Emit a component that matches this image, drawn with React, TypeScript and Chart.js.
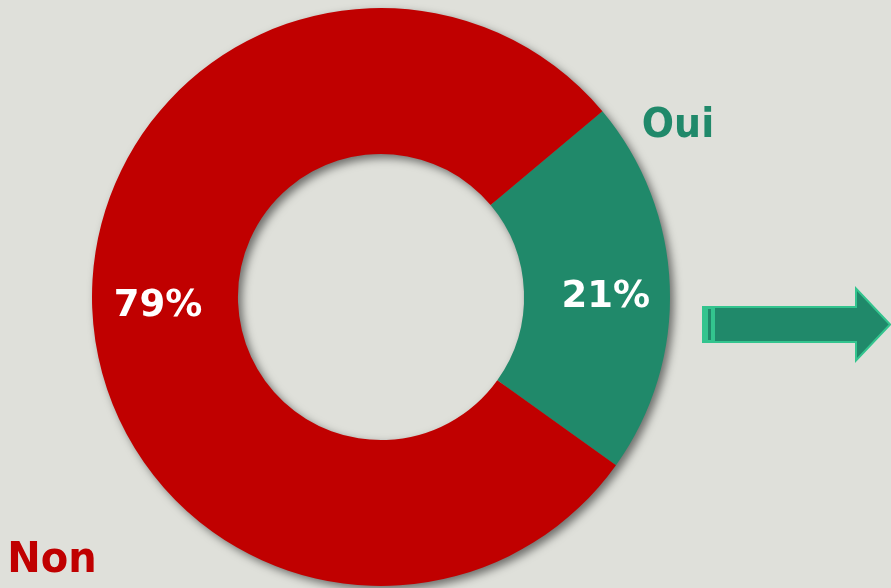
import React, { useEffect, useRef } from "react";
import { Chart, registerables } from "chart.js";

Chart.register(...registerables);

const categories = ["Oui", "Non"];
const values = [21, 79];
const percentLabels = ["21%", "79%"];
const sliceColors = ["#20896a", "#c00000"];
const BG = "#dfe0da";

const decorPlugin = {
  id: "decor",
  beforeDraw(chart: any) {
    const { ctx, width, height } = chart;
    ctx.save();
    ctx.fillStyle = BG;
    ctx.fillRect(0, 0, width, height);
    ctx.restore();
  },
  beforeDatasetsDraw(chart: any) {
    const ctx = chart.ctx;
    const meta = chart.getDatasetMeta(0);
    const arc: any = meta.data[0];
    if (!arc) return;
    const { x, y, outerRadius, innerRadius } = arc.getProps(
      ["x", "y", "outerRadius", "innerRadius"],
      true
    );
    const shift = 5000;
    ctx.save();
    ctx.translate(-shift, 0);
    ctx.shadowColor = "rgba(0,0,0,0.5)";
    ctx.shadowBlur = 8;
    ctx.shadowOffsetX = shift + 4;
    ctx.shadowOffsetY = 4;
    ctx.beginPath();
    ctx.arc(x, y, outerRadius, 0, Math.PI * 2);
    ctx.moveTo(x + innerRadius, y);
    ctx.arc(x, y, innerRadius, 0, Math.PI * 2, true);
    ctx.fillStyle = "#000";
    ctx.fill("evenodd");
    ctx.restore();
  },
  afterDatasetsDraw(chart: any) {
    const ctx = chart.ctx;
    const meta = chart.getDatasetMeta(0);
    ctx.save();
    ctx.textAlign = "center";
    ctx.textBaseline = "alphabetic";
    ctx.fillStyle = "#ffffff";
    ctx.font = "bold 37px 'DejaVu Sans'";
    const offs = [
      [9, 18],
      [-7, 11],
    ];
    meta.data.forEach((arc: any, i: number) => {
      const p = arc.tooltipPosition();
      ctx.fillText(percentLabels[i], p.x + offs[i][0], p.y + offs[i][1]);
    });
    // category labels
    const sy = 1.08;
    ctx.save();
    ctx.scale(1, sy);
    ctx.font = "bold 38px 'DejaVu Sans'";
    ctx.fillStyle = sliceColors[0];
    ctx.fillText(categories[0], 678, 136.5 / sy);
    ctx.fillStyle = sliceColors[1];
    ctx.font = "bold 40px 'DejaVu Sans'";
    ctx.fillText(categories[1], 52, 572 / sy);
    ctx.restore();

    // arrow
    const x0 = 703, x1 = 856, x2 = 890;
    const yc = 324.5, hb = 17.5, hh = 36;
    ctx.beginPath();
    ctx.moveTo(x0, yc - hb);
    ctx.lineTo(x1, yc - hb);
    ctx.lineTo(x1, yc - hh);
    ctx.lineTo(x2, yc);
    ctx.lineTo(x1, yc + hh);
    ctx.lineTo(x1, yc + hb);
    ctx.lineTo(x0, yc + hb);
    ctx.closePath();
    ctx.fillStyle = "#20896a";
    ctx.fill();
    ctx.lineWidth = 2;
    ctx.strokeStyle = "#33c48e";
    ctx.stroke();
    ctx.fillStyle = "#33c48e";
    ctx.fillRect(x0, yc - hb, 12, hb * 2);
    ctx.fillStyle = "#20896a";
    ctx.fillRect(x0 + 5, yc - hb + 2, 3, hb * 2 - 4);
    ctx.restore();
  },
};

export default function App() {
  const ref = useRef<HTMLCanvasElement | null>(null);
  useEffect(() => {
    document.body.style.margin = "0";
    const chart = new Chart(ref.current as HTMLCanvasElement, {
      type: "doughnut",
      data: {
        labels: categories,
        datasets: [
          {
            data: values,
            backgroundColor: sliceColors,
            borderWidth: 0,
          },
        ],
      },
      options: {
        animation: false,
        responsive: false,
        rotation: 50,
        cutout: "49.5%",
        layout: { padding: { left: 92, right: 221, top: 8, bottom: 2 } },
        plugins: {
          legend: { display: false },
          tooltip: { enabled: false },
        },
      },
      plugins: [decorPlugin],
    });
    return () => chart.destroy();
  }, []);
  return (
    <div style={{ width: 891, height: 588, background: BG }}>
      <canvas ref={ref} width={891} height={588} />
    </div>
  );
}
